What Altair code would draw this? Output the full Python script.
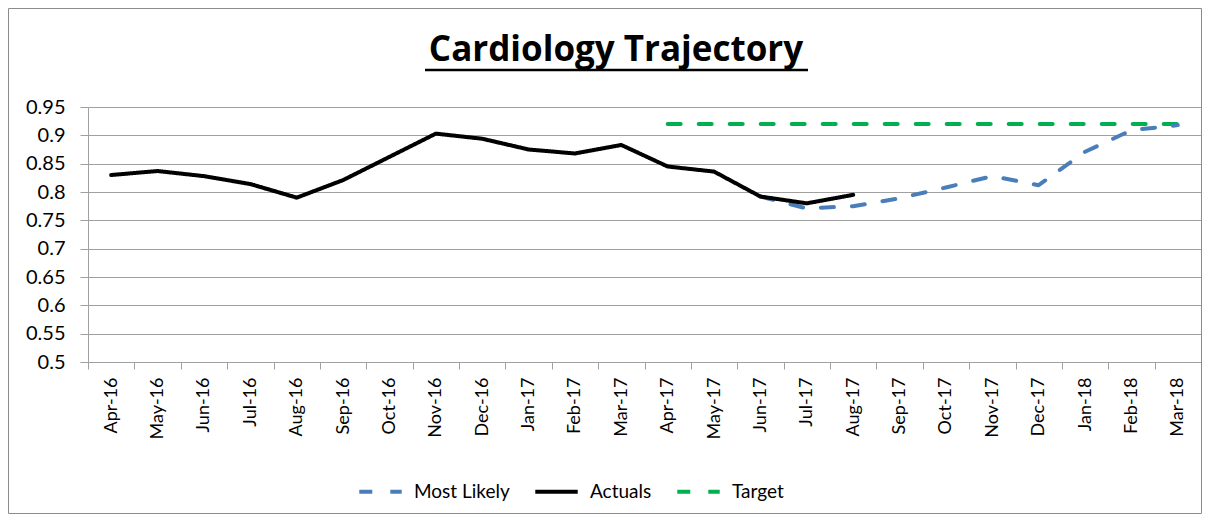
import altair as alt
import pandas as pd

months = ["Apr-16", "May-16", "Jun-16", "Jul-16", "Aug-16", "Sep-16", "Oct-16", "Nov-16",
          "Dec-16", "Jan-17", "Feb-17", "Mar-17", "Apr-17", "May-17", "Jun-17", "Jul-17",
          "Aug-17", "Sep-17", "Oct-17", "Nov-17", "Dec-17", "Jan-18", "Feb-18", "Mar-18"]

actuals = [0.830, 0.837, 0.828, 0.814, 0.790, 0.821, 0.862, 0.903, 0.894, 0.875, 0.868,
           0.883, 0.845, 0.836, 0.792, 0.780, 0.795,
           None, None, None, None, None, None, None]

most_likely = [None] * 14 + [0.792, 0.771, 0.775, 0.789, 0.808, 0.828, 0.812, 0.871, 0.909, 0.918]

target = [None] * 12 + [0.92] * 12

series_names = ["Most Likely", "Actuals", "Target"]
series_colors = ["#4A7EBB", "#000000", "#00B050"]
y_ticks = [0.5, 0.55, 0.6, 0.65, 0.7, 0.75, 0.8, 0.85, 0.9, 0.95]
title_text = ["Cardiology Trajectory"]

rows = []
for name, vals in zip(series_names, [most_likely, actuals, target]):
    for m, v in zip(months, vals):
        if v is not None:
            rows.append({"month": m, "value": v, "series": name})
df = pd.DataFrame(rows)

FONT = "Lato"
GRAY = "#A0A0A0"
W, H = 1113, 255

x_enc = alt.X("month:N", sort=months, bandPosition=0.5,
              scale=alt.Scale(type="band", domain=months, paddingInner=0, paddingOuter=0),
              axis=alt.Axis(title=None, labelAngle=270, labelAlign="right", labelBaseline="middle",
                            tickBand="extent", tickSize=7, tickColor=GRAY, domainColor=GRAY,
                            labelFont=FONT, labelFontSize=18, labelColor="#000000",
                            labelPadding=8, grid=False, labelOverlap=False))
y_enc = alt.Y("value:Q",
              scale=alt.Scale(domain=[0.5, 0.95], nice=False, zero=False),
              axis=alt.Axis(title=None, values=y_ticks, labelExpr="format(datum.value, '.2~f')",
                            grid=True, gridColor=GRAY, tickColor=GRAY, tickSize=8, domainColor=GRAY,
                            labelFont=FONT, labelFontSize=20, labelColor="#000000",
                            labelPadding=15))
legend_opts = dict(title=None, orient="none", direction="horizontal",
                   legendX=269, legendY=361, symbolType="stroke",
                   symbolSize=1800, symbolStrokeWidth=4,
                   labelFont=FONT, labelFontSize=19, labelColor="#000000",
                   labelOffset=10, columnPadding=17)
color_enc = alt.Color("series:N",
                      scale=alt.Scale(domain=series_names, range=series_colors),
                      legend=alt.Legend(**legend_opts))
dash_enc = alt.StrokeDash("series:N",
                          scale=alt.Scale(domain=series_names, range=[[13, 18], [1, 0], [13, 18]]),
                          legend=alt.Legend(**legend_opts))

base = alt.Chart(df)

def line_layer(name):
    return base.transform_filter(alt.datum.series == name).mark_line(
        strokeWidth=4, strokeCap="round", strokeJoin="round"
    ).encode(x=x_enc, y=y_enc, color=color_enc, strokeDash=dash_enc)

lines = alt.layer(line_layer("Target"), line_layer("Most Likely"), line_layer("Actuals"))

title_df = pd.DataFrame({"t": title_text})
title = alt.Chart(title_df).mark_text(
    font="Open Sans", fontSize=35, fontWeight="bold", color="#000000",
    align="center", baseline="alphabetic"
).encode(text="t:N", x=alt.value(528), y=alt.value(-46))

underline = alt.Chart(title_df).mark_rule(color="#000000", strokeWidth=2.5).encode(
    x=alt.value(337), x2=alt.value(720), y=alt.value(-37))

border = alt.Chart(title_df).mark_rect(fill=None, stroke="#8C8C8C", strokeWidth=1).encode(
    x=alt.value(-79.5), x2=alt.value(W + 0.5), y=alt.value(-98.5), y2=alt.value(H + 151.5))

chart = alt.layer(border, lines, title, underline).properties(
    width=W, height=H,
    autosize=alt.AutoSizeParams(type="none"),
    padding={"left": 80, "top": 99, "right": 1, "bottom": 153},
    background="#FFFFFF",
).configure_view(stroke=None)

chart.save("out.html", embed_options={"renderer": "svg", "actions": False})
